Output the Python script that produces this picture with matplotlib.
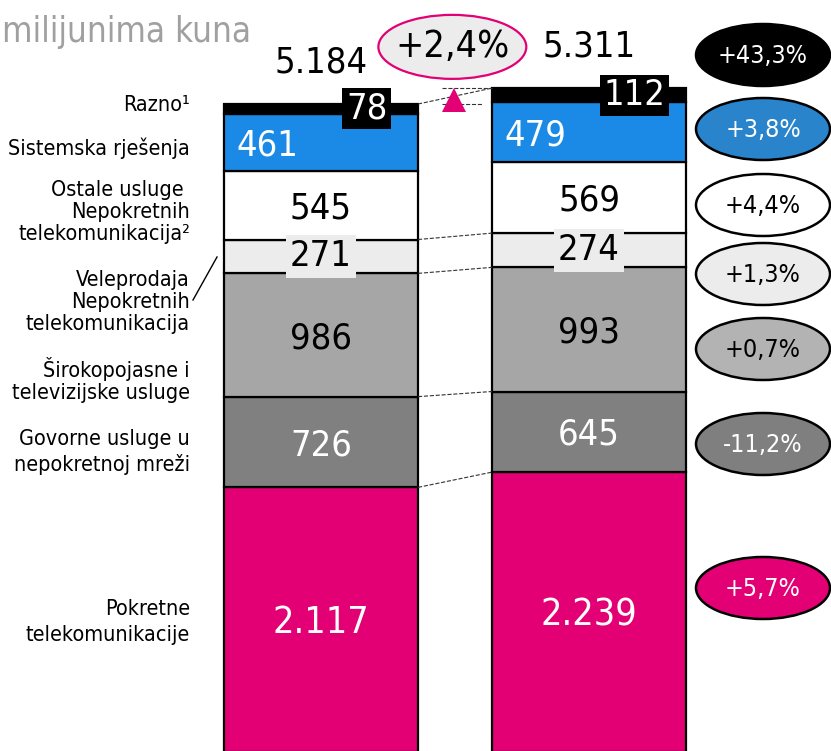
import matplotlib
matplotlib.use('Agg')
import matplotlib.pyplot as plt
from matplotlib.patches import Ellipse
from matplotlib.lines import Line2D
from matplotlib.transforms import Affine2D

plt.rcParams['font.family'] = ['DejaVu Sans']
plt.rcParams['font.stretch'] = 'condensed'

# podaci (milijuni kuna), od dna prema vrhu stupca
kategorije = ['Pokretne telekomunikacije', 'Govorne usluge u nepokretnoj mreži',
              'Širokopojasne i televizijske usluge', 'Veleprodaja Nepokretnih telekomunikacija',
              'Ostale usluge Nepokretnih telekomunikacija', 'Sistemska rješenja', 'Razno']
prihod_prva = [2117, 726, 986, 271, 545, 461, 78]
prihod_druga = [2239, 645, 993, 274, 569, 479, 112]
ukupno = [5184, 5311]
promjene = ['+5,7%', '-11,2%', '+0,7%', '+1,3%', '+4,4%', '+3,8%', '+43,3%']
ukupna_promjena = '+2,4%'
oznake_lijevo = ['Pokretne\ntelekomunikacije', 'Govorne usluge u\nnepokretnoj mreži',
                 'Širokopojasne i\ntelevizijske usluge', 'Veleprodaja\nNepokretnih\ntelekomunikacija',
                 'Ostale usluge \nNepokretnih\ntelekomunikacija²', 'Sistemska rješenja', 'Razno¹']

# stil
boje = ['#e20074', '#808080', '#a6a6a6', '#ececec', '#ffffff', '#1a8ae6', '#000000']
boje_teksta = ['white', 'white', 'black', 'black', 'black', 'white', 'white']
boje_elipsi = ['#e20074', '#7f7f7f', '#b3b3b3', '#ececec', '#ffffff', '#2a84cc', '#000000']
W, H = 831, 751


def fmt(v):
    return f'{v:,}'.replace(',', '.')


fig = plt.figure(figsize=(W / 100, H / 100), dpi=100)
ax = fig.add_axes([0, 0, 1, 1])
ax.set_xlim(-1.198, 1.903)
ax.set_ylim(8, 6016)
ax.axis('off')

# pikselne koordinate (od gornjeg lijevog kuta) za raspored teksta
px = Affine2D().scale(1 / W, -1 / H).translate(0, 1) + fig.transFigure

sirina = 0.724
for j, vrijednosti in enumerate([prihod_prva, prihod_druga]):
    dno = 0
    for i, v in enumerate(vrijednosti):
        ax.bar(j, v, bottom=dno, width=sirina, color=boje[i], edgecolor='black', linewidth=1.6)
        y = dno + v / 2 - 25
        x = j
        kw = dict(ha='center', va='center', color=boje_teksta[i], fontsize=26)
        if i == 0:
            kw['fontsize'] = 27
        if i == 5:
            x = j - 0.2
        if i == 6:
            x = j + 0.17
            y = dno + v / 2
            kw['bbox'] = dict(boxstyle='square,pad=0.1', fc='black', ec='none')
        if i == 3:
            y = dno + v / 2
            kw['bbox'] = dict(boxstyle='square,pad=0.12', fc='#ececec', ec='none')
        ax.text(x, y, fmt(v), **kw)
        dno += v
    ax.text(j, ukupno[j] + 330, fmt(ukupno[j]), ha='center', va='center', fontsize=26)

# isprekidane spojnice između stupaca
x1, x2 = sirina / 2, 1 - sirina / 2
kum1, kum2 = 0, 0
for i in range(4):
    kum1 += prihod_prva[i]
    kum2 += prihod_druga[i]
    ax.plot([x1, x2], [kum1, kum2], ls='--', color='#333333', lw=0.8)
ax.plot([x1, x2], [ukupno[0], ukupno[1]], ls='--', color='#333333', lw=0.8)

x_tr = 0.496
ax.plot([x_tr - 0.045, x2], [ukupno[1], ukupno[1]], ls='--', color='#333333', lw=0.8)
ax.plot([x_tr - 0.045, x_tr + 0.11], [ukupno[0], ukupno[0]], ls='--', color='#333333', lw=0.8)
ax.plot(x_tr, (ukupno[0] + ukupno[1]) / 2 - 30, marker='^', color='#e20074', markersize=17,
        markeredgewidth=0)

# ukupna promjena
e = Ellipse((x_tr - 0.006, ukupno[1] + 330), 0.552, 512, fc='#ececec', ec='#e20074', lw=1.6)
ax.add_patch(e)
ax.text(x_tr - 0.006, ukupno[1] + 330, ukupna_promjena, ha='center', va='center', fontsize=27)

# elipse s promjenama desno
y_elipsi = [588, 444, 349, 274, 205, 129, 55]
for i, p in enumerate(promjene):
    fig.add_artist(Ellipse((763, y_elipsi[i]), 134, 62, transform=px,
                           fc=boje_elipsi[i], ec='black', lw=1.8))
    fig.text(763, y_elipsi[i] + 1, p, transform=px, ha='center', va='center',
             fontsize=18, color=boje_teksta[i])

# oznake kategorija lijevo
y_lijevo = [622, 452, 380, 302, 212, 148, 105]
razmak = [1.35, 1.35, 1.15, 1.15, 1.15, 1.15, 1.15]
for i, t in enumerate(oznake_lijevo):
    fig.text(190, y_lijevo[i], t, transform=px, ha='right', va='center',
             fontsize=15.5, linespacing=razmak[i])
fig.add_artist(Line2D([193, 217], [300, 257], transform=px, color='black', lw=1))

fig.text(2, 42, 'milijunima kuna', transform=px, ha='left', va='baseline',
         fontsize=25, color='#a0a0a0')

plt.savefig('out.png', dpi=100)
